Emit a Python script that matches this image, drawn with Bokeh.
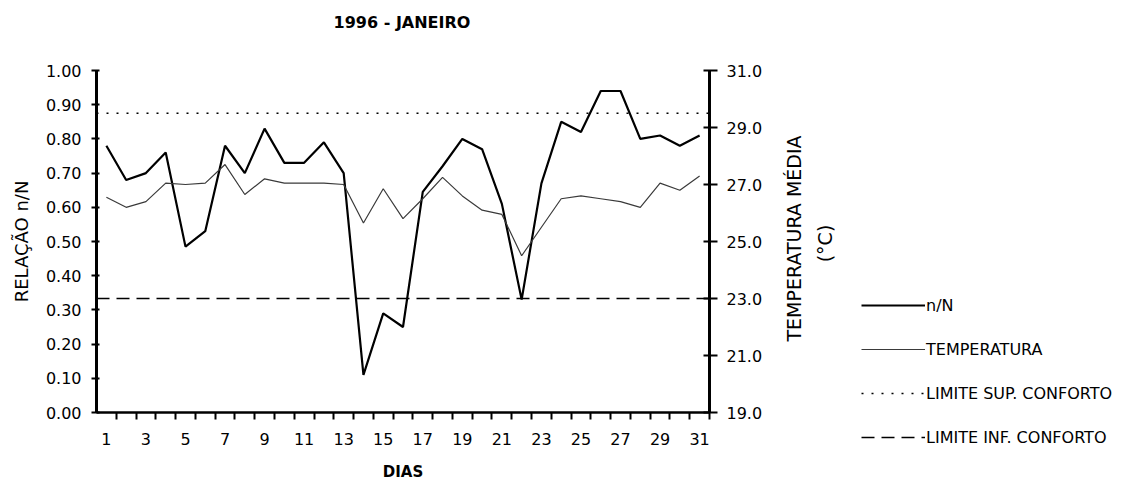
import math
from bokeh.plotting import figure
from bokeh.layouts import row, column
from bokeh.models import (Range1d, LinearAxis, FixedTicker, PrintfTickFormatter,
                          Legend, LegendItem, Label)
from bokeh.embed import file_html
from bokeh.resources import INLINE

# ---------------- data ----------------
days = list(range(1, 32))
x_tick_days = [1, 3, 5, 7, 9, 11, 13, 15, 17, 19, 21, 23, 25, 27, 29, 31]
ratio_nN = [0.78, 0.68, 0.70, 0.76, 0.485, 0.53, 0.78, 0.70, 0.83, 0.73,
            0.73, 0.79, 0.70, 0.11, 0.29, 0.25, 0.645, 0.72, 0.80, 0.77,
            0.61, 0.33, 0.67, 0.85, 0.82, 0.94, 0.94, 0.80, 0.81, 0.78, 0.81]
temperatura = [26.55, 26.2, 26.4, 27.05, 27.0, 27.05, 27.7, 26.65, 27.2, 27.05,
               27.05, 27.05, 27.0, 25.65, 26.85, 25.8, 26.5, 27.25, 26.6, 26.1,
               25.95, 24.5, 25.5, 26.5, 26.6, 26.5, 26.4, 26.2, 27.05, 26.8, 27.3]
limite_sup = 29.5
limite_inf = 23.0
left_ticks = [0.0, 0.1, 0.2, 0.3, 0.4, 0.5, 0.6, 0.7, 0.8, 0.9, 1.0]
right_ticks = [19, 21, 23, 25, 27, 29, 31]
legend_labels = ["n/N", "TEMPERATURA", "LIMITE SUP. CONFORTO", "LIMITE INF. CONFORTO"]
title_text = "1996 - JANEIRO"

FONT = "DejaVu Sans"
W = 1116
H = 478
T = 36            # title strip height
HM = H - T        # main row height
BL, BR = 96, 64   # main plot side borders
BT = 70 - T       # main plot top border

# styles
s_nN = dict(line_color="black", line_width=2.2)
s_temp = dict(line_color="#3a3a3a", line_width=1.2)
s_sup = dict(line_color="black", line_width=1.5, line_dash="2 8")
s_inf = dict(line_color="black", line_width=1.5, line_dash="13 7")


def no_align(f):
    if "frame_align" in f.properties():
        f.frame_align = False
    return f


def blank(width, height):
    f = figure(width=width, height=height, x_range=Range1d(0, width),
               y_range=Range1d(height, 0), x_axis_location=None, y_axis_location=None,
               min_border=0, min_border_left=0, min_border_right=0,
               min_border_top=0, min_border_bottom=0,
               output_backend="svg", toolbar_location=None)
    f.outline_line_color = None
    f.grid.visible = False
    f.background_fill_color = "white"
    f.border_fill_color = "white"
    return no_align(f)


# ---------------- title strip ----------------
t = blank(W, T)
t.add_layout(Label(x=401.5, y=22, text=title_text, text_align="center",
                   text_baseline="middle", text_font=FONT, text_font_size="16px",
                   text_font_style="bold", text_color="black"))

# ---------------- main plot ----------------
p = figure(frame_width=613, frame_height=342,
           min_border_left=BL, min_border_right=BR,
           min_border_top=BT, min_border_bottom=HM - BT - 342,
           x_range=Range1d(0.5, len(days) + 0.5), y_range=Range1d(0, 1),
           output_backend="svg", toolbar_location=None)
p.extra_y_ranges = {"temp": Range1d(19, 31)}

p.outline_line_color = None
p.grid.visible = False
p.background_fill_color = "white"
p.border_fill_color = "white"

# x axis
xa = p.xaxis[0]
xa.ticker = FixedTicker(ticks=x_tick_days, minor_ticks=[d + 0.5 for d in days])
xa.major_tick_line_color = None
xa.major_tick_out = 0
xa.major_tick_in = 0
xa.minor_tick_out = 7
xa.minor_tick_in = 0
xa.minor_tick_line_width = 2
xa.minor_tick_line_color = "black"
xa.axis_line_width = 2.5
xa.axis_line_color = "black"
xa.major_label_standoff = 13
xa.major_label_text_font = FONT
xa.major_label_text_font_size = "16px"
xa.major_label_text_color = "black"
xa.axis_label = "DIAS"
xa.axis_label_text_font = FONT
xa.axis_label_text_font_size = "15px"
xa.axis_label_text_font_style = "bold"
xa.axis_label_text_color = "black"
xa.axis_label_standoff = 15

# left axis
ya = p.yaxis[0]
ya.ticker = FixedTicker(ticks=left_ticks)
ya.formatter = PrintfTickFormatter(format="%.2f")
ya.major_tick_in = 3
ya.major_tick_out = 5
ya.major_tick_line_width = 2
ya.major_tick_line_color = "black"
ya.minor_tick_line_color = None
ya.axis_line_width = 3
ya.axis_line_color = "black"
ya.major_label_standoff = 10
ya.major_label_text_font = FONT
ya.major_label_text_font_size = "16px"
ya.major_label_text_color = "black"
ya.axis_label = "RELAÇÃO n/N"
ya.axis_label_text_font = FONT
ya.axis_label_text_font_size = "18px"
ya.axis_label_text_font_style = "normal"
ya.axis_label_text_color = "black"
ya.axis_label_standoff = 11

# right axis
ra = LinearAxis(y_range_name="temp", ticker=FixedTicker(ticks=right_ticks),
                formatter=PrintfTickFormatter(format="%.1f"))
ra.major_tick_in = 6
ra.major_tick_out = 8
ra.major_tick_line_width = 2
ra.major_tick_line_color = "black"
ra.minor_tick_line_color = None
ra.axis_line_width = 3
ra.axis_line_color = "black"
ra.major_label_standoff = 9
ra.major_label_text_font = FONT
ra.major_label_text_font_size = "16px"
ra.major_label_text_color = "black"
p.add_layout(ra, "right")

# series
p.line(days, ratio_nN, **s_nN)
p.line(days, temperatura, y_range_name="temp", **s_temp)
x_ends = [p.x_range.start, p.x_range.end]
p.line(x_ends, [limite_sup, limite_sup], y_range_name="temp", **s_sup)
p.line(x_ends, [limite_inf, limite_inf], y_range_name="temp", **s_inf)

# ---------------- side panel: right axis title + legend ----------------
W2 = W - (BL + 613 + BR)
q = blank(W2, HM)

q.add_layout(Label(x=20, y=240 - 2 - T, text="TEMPERATURA MÉDIA", angle=math.pi / 2,
                   text_align="center", text_baseline="middle",
                   text_font=FONT, text_font_size="19px", text_color="black"))
q.add_layout(Label(x=51, y=245 - 2 - T, text="(°C)", angle=math.pi / 2,
                   text_align="center", text_baseline="middle",
                   text_font=FONT, text_font_size="19px", text_color="black"))

# legend proxies (kept outside the visible area of the side panel)
px_off = [-60, -50]
py_off = [-60, -60]
g_nN = q.line(x=px_off, y=py_off, **s_nN)
g_temp = q.line(x=px_off, y=py_off, **s_temp)
g_sup = q.line(x=px_off, y=py_off, **s_sup)
g_inf = q.line(x=px_off, y=py_off, **s_inf)

legend = Legend(items=[LegendItem(label=legend_labels[0], renderers=[g_nN]),
                       LegendItem(label=legend_labels[1], renderers=[g_temp]),
                       LegendItem(label=legend_labels[2], renderers=[g_sup]),
                       LegendItem(label=legend_labels[3], renderers=[g_inf])],
                location=(88, 31), glyph_width=64, glyph_height=20,
                label_height=20, label_standoff=1, spacing=24, padding=0, margin=0,
                border_line_color=None, background_fill_alpha=0,
                label_text_font=FONT, label_text_font_size="16px",
                label_text_color="black")
q.add_layout(legend)

layout = column(t, row(p, q))
open("out.html", "w").write(file_html(layout, INLINE))
